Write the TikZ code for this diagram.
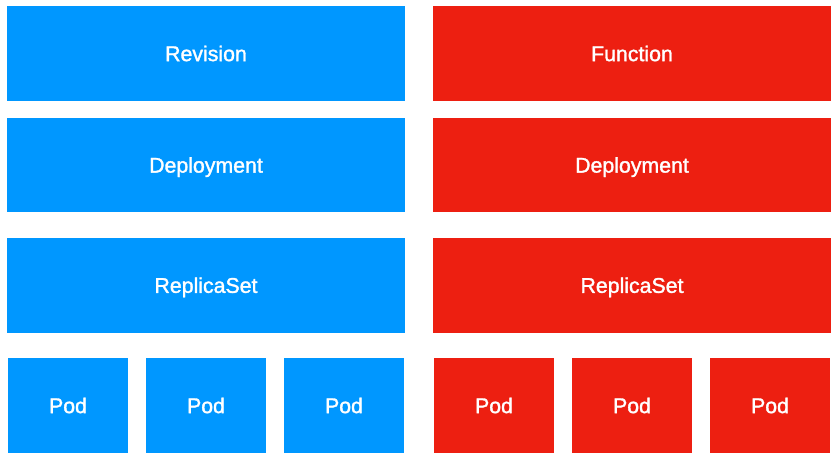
\documentclass[tikz,border=0pt]{standalone}
\usepackage{fontspec}
\setmainfont{Liberation Sans}[FakeBold=1.5]
\definecolor{kblue}{HTML}{0097FF}
\definecolor{kred}{HTML}{ED1F11}
\begin{document}
\begin{tikzpicture}[x=1pt,y=-1pt,
  box/.style={inner sep=0pt,text=white,text height=15.2pt,text depth=0pt,font=\fontsize{21.3}{25}\selectfont},
  bbox/.style={box,fill=kblue},
  rbox/.style={box,fill=kred}]
\useasboundingbox (0,0) rectangle (837,460);
% blue side
\path[bbox] (7,6) rectangle (405,101) node[midway] (rev) {Revision};
\path[bbox] (7,118) rectangle (405,212) node[midway] (bdep) {Deployment};
\path[bbox] (7,238) rectangle (405,332.5) node[midway] (brs) {ReplicaSet};
\path[bbox] (8,358) rectangle (128,453) node[midway] (bp1) {Pod};
\path[bbox] (146,358) rectangle (266,453) node[midway] (bp2) {Pod};
\path[bbox] (284,358) rectangle (404,453) node[midway] (bp3) {Pod};
% red side
\path[rbox] (433,6) rectangle (831,101) node[midway] (fun) {Function};
\path[rbox] (433,118) rectangle (831,212) node[midway] (rdep) {Deployment};
\path[rbox] (433,238) rectangle (831,332.5) node[midway] (rrs) {ReplicaSet};
\path[rbox] (434,358) rectangle (554,453) node[midway] (rp1) {Pod};
\path[rbox] (572,358) rectangle (692,453) node[midway] (rp2) {Pod};
\path[rbox] (710,358) rectangle (830,453) node[midway] (rp3) {Pod};
\end{tikzpicture}
\end{document}
